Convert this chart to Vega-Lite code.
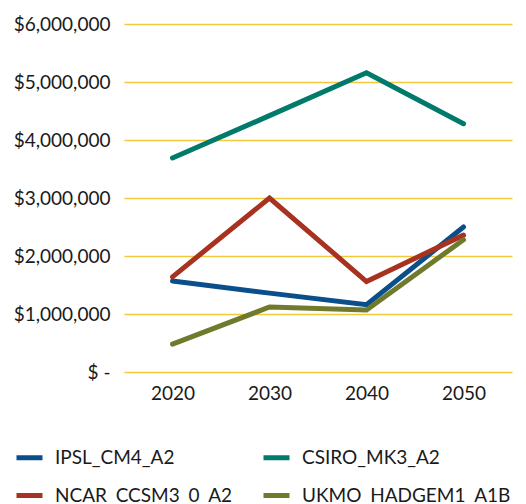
{
  "$schema": "https://vega.github.io/schema/vega-lite/v6.json",
  "width": 388,
  "height": 348,
  "padding": {"left": 13, "top": 15, "right": 6, "bottom": 0},
  "background": "white",
  "data": {
    "values": [
      {"year": "2020", "model": "IPSL_CM4_A2", "value": 1570000},
      {"year": "2030", "model": "IPSL_CM4_A2", "value": 1360000},
      {"year": "2040", "model": "IPSL_CM4_A2", "value": 1160000},
      {"year": "2050", "model": "IPSL_CM4_A2", "value": 2500000},
      {"year": "2020", "model": "CSIRO_MK3_A2", "value": 3690000},
      {"year": "2030", "model": "CSIRO_MK3_A2", "value": 4420000},
      {"year": "2040", "model": "CSIRO_MK3_A2", "value": 5160000},
      {"year": "2050", "model": "CSIRO_MK3_A2", "value": 4280000},
      {"year": "2020", "model": "NCAR_CCSM3_0_A2", "value": 1640000},
      {"year": "2030", "model": "NCAR_CCSM3_0_A2", "value": 3000000},
      {"year": "2040", "model": "NCAR_CCSM3_0_A2", "value": 1560000},
      {"year": "2050", "model": "NCAR_CCSM3_0_A2", "value": 2360000},
      {"year": "2020", "model": "UKMO_HADGEM1_A1B", "value": 480000},
      {"year": "2030", "model": "UKMO_HADGEM1_A1B", "value": 1120000},
      {"year": "2040", "model": "UKMO_HADGEM1_A1B", "value": 1070000},
      {"year": "2050", "model": "UKMO_HADGEM1_A1B", "value": 2280000}
    ]
  },
  "mark": {"type": "line", "strokeWidth": 5, "strokeCap": "round", "strokeJoin": "miter"},
  "encoding": {
    "x": {
      "field": "year", "type": "ordinal",
      "scale": {"type": "point", "padding": 0.5},
      "axis": {"title": null, "domain": false, "ticks": false, "grid": false, "labelAngle": 0, "labelPadding": 12, "labelFontSize": 19, "labelFont": "Lato", "labelColor": "#1a1a1a"}
    },
    "y": {
      "field": "value", "type": "quantitative",
      "scale": {"domain": [0, 6000000], "nice": false},
      "axis": {"title": null, "domain": false, "ticks": false, "values": [0, 1000000, 2000000, 3000000, 4000000, 5000000, 6000000],
        "labelExpr": "datum.value == 0 ? '$ -' : '$' + format(datum.value, ',')",
        "labelPadding": 14, "labelFontSize": 19, "labelFont": "Lato", "labelColor": "#1a1a1a", "labelOverlap": false,
        "gridColor": "#F0C93C", "gridWidth": 1.5, "gridOpacity": 1}
    },
    "color": {
      "field": "model", "type": "nominal",
      "scale": {
        "domain": ["IPSL_CM4_A2", "CSIRO_MK3_A2", "NCAR_CCSM3_0_A2", "UKMO_HADGEM1_A1B"],
        "range": ["#0B4F8A", "#007A6B", "#A6321F", "#6F7A2D"]
      },
      "legend": {
        "title": null, "orient": "none", "legendX": -110, "legendY": 418, "columns": 2, "direction": "horizontal",
        "symbolType": "stroke", "symbolStrokeWidth": 5, "symbolSize": 676,
        "labelFontSize": 19, "labelFont": "Lato", "labelColor": "#1a1a1a", "labelLimit": 300,
        "columnPadding": 20, "rowPadding": 12, "labelOffset": 10
      }
    }
  },
  "config": {"view": {"stroke": null}}
}
